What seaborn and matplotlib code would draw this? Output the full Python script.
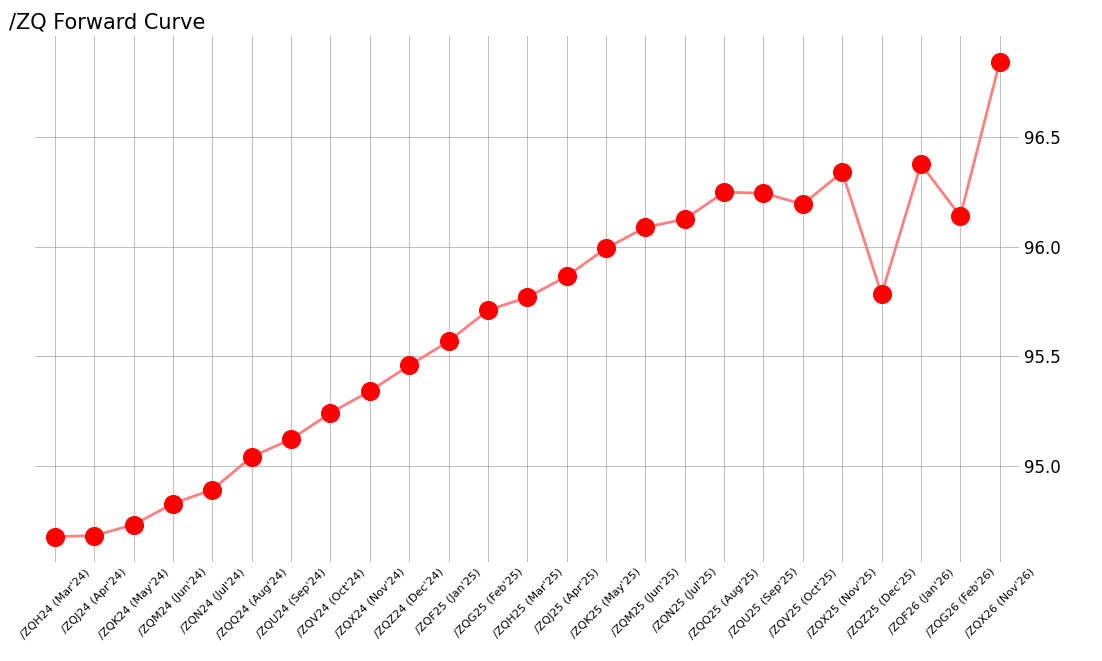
import pandas as pd
import seaborn as sns
import matplotlib.pyplot as plt

contracts = ["/ZQH24 (Mar'24)", "/ZQJ24 (Apr'24)", "/ZQK24 (May'24)", "/ZQM24 (Jun'24)",
             "/ZQN24 (Jul'24)", "/ZQQ24 (Aug'24)", "/ZQU24 (Sep'24)", "/ZQV24 (Oct'24)",
             "/ZQX24 (Nov'24)", "/ZQZ24 (Dec'24)", "/ZQF25 (Jan'25)", "/ZQG25 (Feb'25)",
             "/ZQH25 (Mar'25)", "/ZQJ25 (Apr'25)", "/ZQK25 (May'25)", "/ZQM25 (Jun'25)",
             "/ZQN25 (Jul'25)", "/ZQQ25 (Aug'25)", "/ZQU25 (Sep'25)", "/ZQV25 (Oct'25)",
             "/ZQX25 (Nov'25)", "/ZQZ25 (Dec'25)", "/ZQF26 (Jan'26)", "/ZQG26 (Feb'26)",
             "/ZQX26 (Nov'26)"]
prices = [94.675, 94.68, 94.73, 94.826, 94.89, 95.04, 95.12, 95.24, 95.34, 95.457,
          95.567, 95.709, 95.768, 95.864, 95.992, 96.088, 96.125, 96.248, 96.244, 96.193,
          96.34, 95.782, 96.376, 96.139, 96.843]

df = pd.DataFrame({'contract': contracts, 'price': prices})

fig, ax = plt.subplots(figsize=(11.02, 6.61), dpi=100)
sns.lineplot(data=df, x='contract', y='price', color='#ff8080', linewidth=2,
             marker='o', markersize=13, markerfacecolor='red', markeredgecolor='red',
             sort=False, ax=ax)

ax.set_title('/ZQ Forward Curve', loc='left', fontsize=15, x=-0.027)
ax.set_xlabel('')
ax.set_ylabel('')
ax.yaxis.tick_right()
ax.set_yticks([95.0, 95.5, 96.0, 96.5])
ax.set_yticklabels(['95.0', '95.5', '96.0', '96.5'])
ax.tick_params(axis='y', labelsize=12, length=0)
ax.tick_params(axis='x', labelsize=8, length=0, rotation=45)
ax.set_xlim(-0.5, 24.5)
ax.set_ylim(94.56, 96.96)
ax.grid(True, color='gray', linewidth=0.6, alpha=0.6)
for s in ax.spines.values():
    s.set_visible(False)

plt.subplots_adjust(left=0.032, right=0.925, top=0.945, bottom=0.15)
plt.savefig('out.png')
